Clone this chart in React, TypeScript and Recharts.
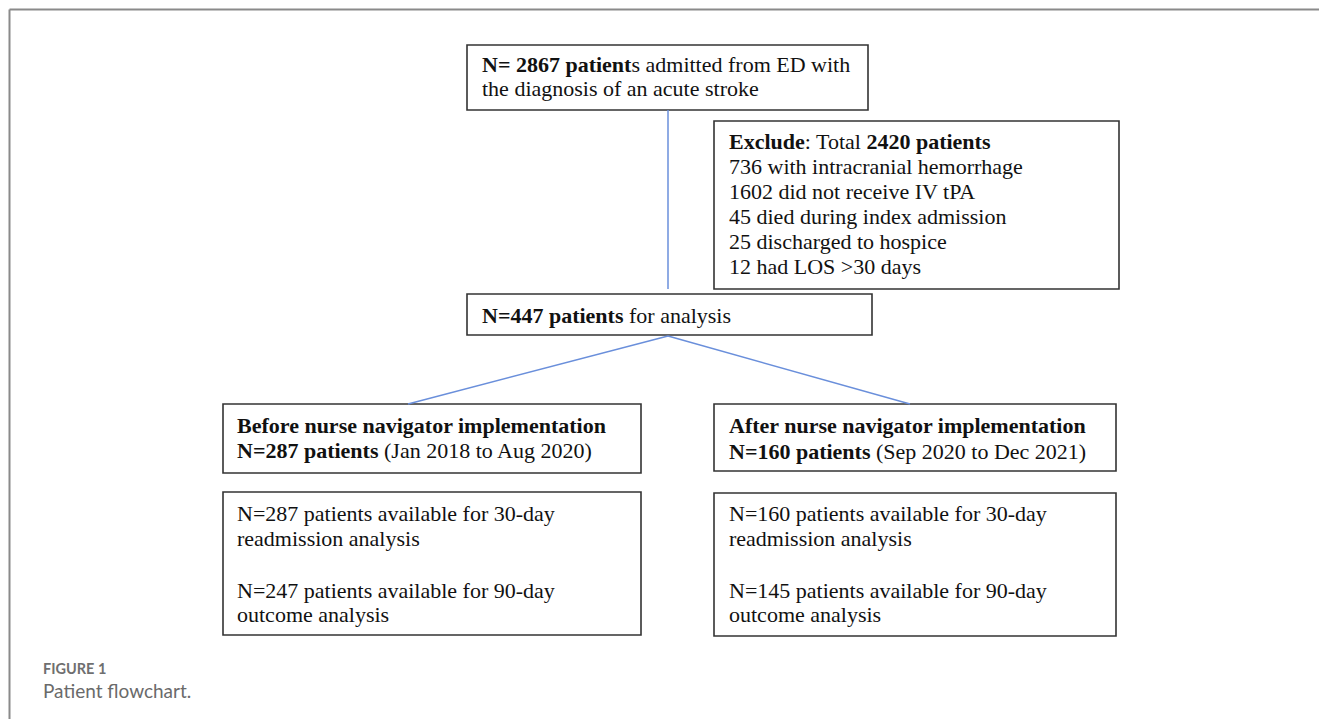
import React from "react";
import { ScatterChart, Scatter, XAxis, YAxis, ReferenceArea, ReferenceLine } from "recharts";

type Run = [string, boolean];

// ---- text content ----
const admittedLines: Run[][] = [
  [["N= 2867 patient", true], ["s admitted from ED with", false]],
  [["the diagnosis of an acute stroke", false]],
];
const excludeLines: Run[][] = [
  [["Exclude", true], [": Total ", false], ["2420 patients", true]],
  [["736 with intracranial hemorrhage", false]],
  [["1602 did not receive IV tPA", false]],
  [["45 died during index admission", false]],
  [["25 discharged to hospice", false]],
  [["12 had LOS >30 days", false]],
];
const analysisLines: Run[][] = [[["N=447 patients", true], [" for analysis", false]]];
const beforeLines: Run[][] = [
  [["Before nurse navigator implementation", true]],
  [["N=287 patients", true], [" (Jan 2018 to Aug 2020)", false]],
];
const afterLines: Run[][] = [
  [["After nurse navigator implementation", true]],
  [["N=160 patients", true], [" (Sep 2020 to Dec 2021)", false]],
];
const beforeOutcomeLines: Run[][] = [
  [["N=287 patients available for 30-day", false]],
  [["readmission analysis", false]],
  [["N=247 patients available for 90-day", false]],
  [["outcome analysis", false]],
];
const afterOutcomeLines: Run[][] = [
  [["N=160 patients available for 30-day", false]],
  [["readmission analysis", false]],
  [["N=145 patients available for 90-day", false]],
  [["outcome analysis", false]],
];
const captionLabel = "FIGURE 1";
const captionText = "Patient flowchart.";

// ---- layout (pixel space of the figure) ----
const W = 1319;
const H = 719;

const boxes = [
  { x1: 467, x2: 868, y1: 45, y2: 110 },
  { x1: 714, x2: 1119, y1: 121, y2: 289 },
  { x1: 467, x2: 872, y1: 294, y2: 335 },
  { x1: 223, x2: 641, y1: 404, y2: 473 },
  { x1: 714, x2: 1116, y1: 404, y2: 471 },
  { x1: 223, x2: 641, y1: 492, y2: 635 },
  { x1: 714, x2: 1116, y1: 493, y2: 636 },
];

const blocks: { lines: Run[][]; x: number; ys: number[] }[] = [
  { lines: admittedLines, x: 482, ys: [72, 96] },
  { lines: excludeLines, x: 729, ys: [149, 174, 199, 224, 249, 274] },
  { lines: analysisLines, x: 482, ys: [323] },
  { lines: beforeLines, x: 237, ys: [433, 458] },
  { lines: afterLines, x: 729, ys: [433, 459] },
  { lines: beforeOutcomeLines, x: 237, ys: [521, 546, 598, 622] },
  { lines: afterOutcomeLines, x: 729, ys: [521, 546, 598, 622] },
];

const connectors = [
  [{ x: 668, y: 110 }, { x: 668, y: 289 }],
  [{ x: 668, y: 336 }, { x: 408, y: 404 }],
  [{ x: 668, y: 336 }, { x: 910, y: 404 }],
];

const frame = [
  [{ x: 9.5, y: 9.5 }, { x: W, y: 9.5 }],
  [{ x: 9.5, y: 9.5 }, { x: 9.5, y: H }],
];

const textPoints = blocks.flatMap((b) =>
  b.lines.map((runs, i) => ({ x: b.x, y: b.ys[i], runs }))
);
const captionPoints = [
  { x: 43, y: 674, text: captionLabel, kind: "label" },
  { x: 43, y: 698, text: captionText, kind: "text" },
];

const BodyText = (props: any) => {
  const { cx, cy, payload } = props;
  const runs: Run[] = payload.runs;
  return (
    <text x={cx} y={cy} fontFamily="'Liberation Serif', 'Times New Roman', serif" fontSize={22} fill="#111" style={{ whiteSpace: "pre" }}>
      {runs.map(([t, b], i) => (
        <tspan key={i} fontWeight={b ? "bold" : "normal"}>
          {t}
        </tspan>
      ))}
    </text>
  );
};

const CaptionText = (props: any) => {
  const { cx, cy, payload } = props;
  const isLabel = payload.kind === "label";
  return (
    <text
      x={cx}
      y={cy}
      fontFamily="Lato, 'Open Sans', sans-serif"
      fontSize={isLabel ? 14.5 : 19}
      fontWeight={isLabel ? "bold" : "normal"}
      fill={isLabel ? "#6f6f6f" : "#6a6a6a"}
    >
      {payload.text}
    </text>
  );
};

export default function App() {
  return (
    <div style={{ position: "fixed", left: 0, top: 0, width: W, height: H, background: "#fff" }}>
      <ScatterChart width={W} height={H} margin={{ top: 0, right: 0, bottom: 0, left: 0 }}>
        <XAxis type="number" dataKey="x" domain={[0, W]} hide allowDataOverflow />
        <YAxis type="number" dataKey="y" domain={[0, H]} reversed hide allowDataOverflow />
        {frame.map((seg, i) => (
          <ReferenceLine key={"f" + i} segment={seg} stroke="#8a8a8a" strokeWidth={2} ifOverflow="visible" />
        ))}
        {connectors.map((seg, i) => (
          <ReferenceLine key={"c" + i} segment={seg} stroke="#6a8fdb" strokeWidth={1.5} ifOverflow="visible" />
        ))}
        {boxes.map((b, i) => (
          <ReferenceArea
            key={"b" + i}
            x1={b.x1}
            x2={b.x2}
            y1={b.y1}
            y2={b.y2}
            fill="#fff"
            fillOpacity={1}
            stroke="#333"
            strokeWidth={1.6}
            ifOverflow="visible"
          />
        ))}
        <Scatter data={textPoints} shape={BodyText} isAnimationActive={false} />
        <Scatter data={captionPoints} shape={CaptionText} isAnimationActive={false} />
      </ScatterChart>
    </div>
  );
}
